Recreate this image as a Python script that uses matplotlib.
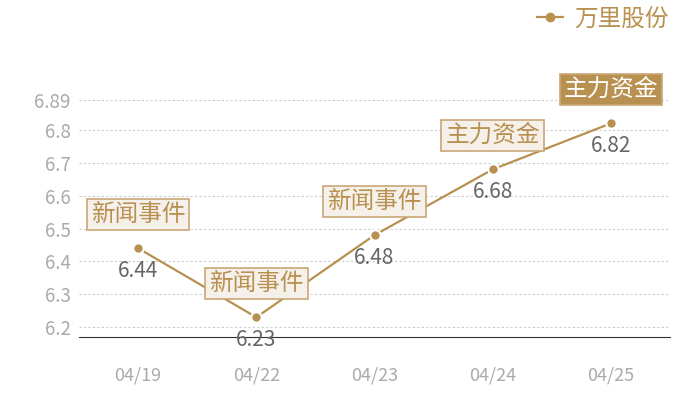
import matplotlib
matplotlib.use("Agg")
import matplotlib.pyplot as plt
from matplotlib.lines import Line2D

plt.rcParams['font.family'] = ['Noto Sans CJK SC', 'DejaVu Sans']

dates = ["04/19", "04/22", "04/23", "04/24", "04/25"]
prices = [6.44, 6.23, 6.48, 6.68, 6.82]
tags = ["新闻事件", "新闻事件", "新闻事件", "主力资金", "主力资金"]
yticks = [6.2, 6.3, 6.4, 6.5, 6.6, 6.7, 6.8, 6.89]
series = "万里股份"

GOLD = "#B8904F"
x = list(range(len(dates)))

fig = plt.figure(figsize=(7, 4), dpi=100)
ax = fig.add_axes([0.113, 0.1575, 0.844, 0.5915])
ax.plot(x, prices, color=GOLD, lw=1.6, marker="o", ms=7.5,
        mfc=GOLD, mec="white", mew=1.5, zorder=3)

ax.set_xlim(-0.5, 4.5)
ax.set_ylim(6.17, 6.89)
ax.set_yticks(yticks)
ax.set_yticklabels([f"{v:g}" for v in yticks])
ax.set_xticks(x)
ax.set_xticklabels(dates)
ax.tick_params(axis="both", length=0, colors="#aaaaaa", labelsize=13.5)
ax.tick_params(axis="x", labelsize=13, pad=21)
ax.tick_params(axis="y", pad=6)
ax.grid(axis="y", ls=(0, (2, 2)), color="#cccccc", lw=0.8)
for s in ["top", "right", "left"]:
    ax.spines[s].set_visible(False)
ax.spines["bottom"].set_color("#333333")

for i, (p, t) in enumerate(zip(prices, tags)):
    ax.annotate(f"{p:.2f}", (i, p), xytext=(0, -16.5), textcoords="offset points",
                ha="center", va="center", fontsize=15, color="#666666", zorder=4)
    last = i == len(prices) - 1
    ax.annotate(t, (i, p), xytext=(0, 24.5), textcoords="offset points",
                ha="center", va="center", fontsize=17,
                color="white" if last else GOLD, zorder=5,
                bbox=dict(boxstyle="square,pad=0.17",
                          fc=GOLD if last else "#F5F0EA",
                          ec="#C9A777", lw=1.2))

handle = Line2D([], [], color=GOLD, lw=1.6, marker="o", ms=6, mfc=GOLD, mec=GOLD)
fig.legend([handle], [series], loc="upper right", bbox_to_anchor=(0.985, 1.035),
           frameon=False, fontsize=17, handlelength=1.1, handletextpad=0.45,
           labelcolor=GOLD)

fig.savefig("out.png", dpi=100)
